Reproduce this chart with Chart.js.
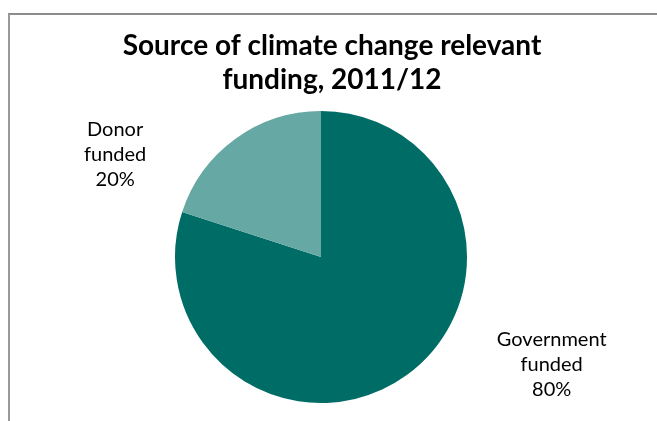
<!DOCTYPE html>
<html>
<head>
<meta charset="utf-8">
<script src="https://cdn.jsdelivr.net/npm/chart.js@4/dist/chart.umd.min.js"></script>
<style>
  html, body { margin: 0; padding: 0; background: #fff; }
  #wrap { position: relative; width: 657px; height: 421px; overflow: hidden; }
  #frame { position: absolute; left: 8px; top: 13px; width: 700px; height: 500px;
           border-left: 2px solid #999; border-top: 2px solid #8c8c8c; box-sizing: border-box; }
  canvas { position: absolute; left: 0; top: 0; }
</style>
</head>
<body>
<div id="wrap">
  <div id="frame"></div>
  <canvas id="pieChart" width="657" height="421"></canvas>
</div>
<script>
// chart data
const titleLines = ['Source of climate change relevant', 'funding, 2011/12'];
const categories = [['Government', 'funded'], ['Donor', 'funded']];
const shares = [80, 20];
const sliceColors = ['#006c66', '#66a8a4'];

// title + outside labels drawn on the canvas
const textPlugin = {
  id: 'textPlugin',
  afterDraw(chart) {
    let ctx = chart.ctx;
    ctx.save();
    ctx.fillStyle = '#000';
    ctx.textAlign = 'center';
    ctx.textBaseline = 'middle';

    // title
    ctx.font = 'bold 28px Lato, "Open Sans", sans-serif';
    titleLines.forEach((line, i) => {
      ctx.fillText(line, 332, 46 + i * 34);
    });

    // slice labels, placed off to the side of each slice
    ctx.font = '20px Lato, "Open Sans", sans-serif';
    let meta = chart.getDatasetMeta(0);
    meta.data.forEach((arc, i) => {
      let mid = (arc.startAngle + arc.endAngle) / 2;
      let sx = Math.cos(mid) >= 0 ? 1 : -1;
      let sy = Math.sin(mid) >= 0 ? 1 : -1;
      let cx = arc.x + sx * arc.outerRadius * (sx > 0 ? 1.58 : 1.41);
      let cy = arc.y + sy * arc.outerRadius * (sy > 0 ? 0.74 : 0.70);
      let lines = categories[i].concat([shares[i] + '%']);
      lines.forEach((line, j) => {
        ctx.fillText(line, cx, cy + (j - 1) * 25);
      });
    });
    ctx.restore();
  }
};

new Chart(document.getElementById('pieChart').getContext('2d'), {
  type: 'pie',
  data: {
    labels: categories.map(c => c.join(' ')),
    datasets: [{
      data: shares,
      backgroundColor: sliceColors,
      borderWidth: 0
    }]
  },
  options: {
    responsive: false,
    animation: false,
    layout: { padding: { top: 111, bottom: 18, left: 0, right: 15 } },
    plugins: {
      legend: { display: false },
      tooltip: { enabled: false },
      title: { display: false }
    }
  },
  plugins: [textPlugin]
});
</script>
</body>
</html>
